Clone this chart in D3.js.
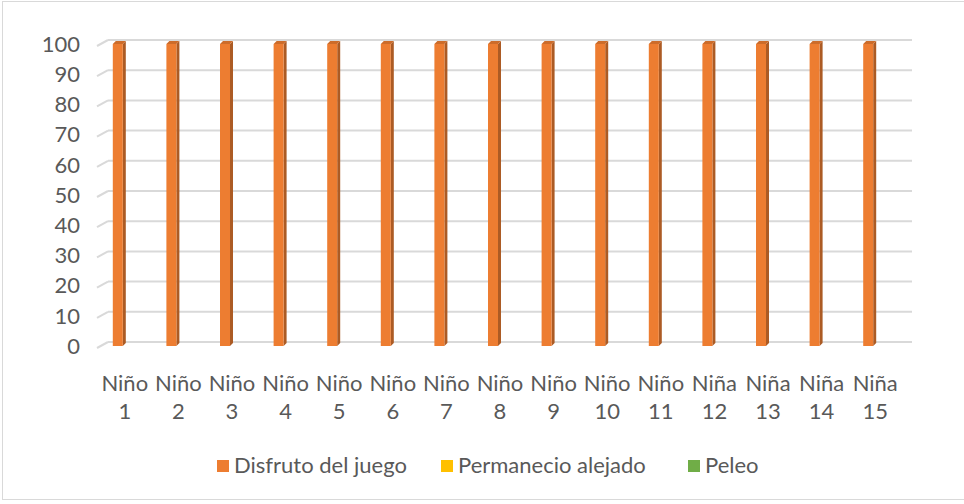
<!DOCTYPE html>
<html><head><meta charset="utf-8">
<script src="https://cdn.jsdelivr.net/npm/d3@7"></script>
<style>body{margin:0;background:#fff}svg{display:block}</style>
</head><body>
<script>
const categories = ["Niño 1","Niño 2","Niño 3","Niño 4","Niño 5","Niño 6","Niño 7","Niño 8","Niño 9","Niño 10","Niño 11","Niña 12","Niña 13","Niña 14","Niña 15"];
const disfruto = [100,100,100,100,100,100,100,100,100,100,100,100,100,100,100];
const alejado  = [0,0,0,0,0,0,0,0,0,0,0,0,0,0,0];
const peleo    = [0,0,0,0,0,0,0,0,0,0,0,0,0,0,0];
const seriesNames = ["Disfruto del juego","Permanecio alejado","Peleo"];
const seriesColors = ["#ED7D31","#FFC000","#70AD47"];
const yTicks = [0,10,20,30,40,50,60,70,80,90,100];

const W = 964, H = 504;
const svg = d3.select("body").append("svg").attr("width", W).attr("height", H);
const font = "Lato, 'Open Sans', sans-serif";
const fs = 22;
const textColor = "#595959";

svg.append("rect").attr("x",2.5).attr("y",1.5).attr("width",1000).attr("height",498)
  .attr("fill","#fff").attr("stroke","#D9D9D9");

const y = d3.scaleLinear().domain([0,100]).range([346,44]);
const x = d3.scaleBand().domain(categories).range([91,895]).paddingInner(0).paddingOuter(0);
const dx = 11, dy = 5; // 3D depth offset

// gridlines (back wall + left side wall)
const grid = svg.append("g");
yTicks.forEach(t => {
  const yy = y(t) - dy + 1;
  grid.append("line").attr("x1",97+dx).attr("x2",912).attr("y1",yy).attr("y2",yy)
    .attr("stroke","#D9D9D9").attr("stroke-width",2);
  grid.append("line").attr("x1",97).attr("y1",yy+dy+1).attr("x2",97+dx).attr("y2",yy)
    .attr("stroke","#D9D9D9").attr("stroke-width",2);
});

// y axis labels
svg.append("g").selectAll("text").data(yTicks).join("text")
  .attr("x",80).attr("y",d=>y(d)).attr("dy","0.35em").attr("text-anchor","end")
  .attr("font-family",font).attr("font-size",fs).attr("fill",textColor).text(d=>d);

// bars (3D-ish)
const bw = 10, sw = 3, th = 3;
const bars = svg.append("g");
const allSeries = [disfruto, alejado, peleo];
allSeries.forEach((vals, si) => {
  const col = d3.color(seriesColors[si]);
  vals.forEach((v, i) => {
    if (v <= 0) return;
    const cx = x(categories[i]) + x.bandwidth()/2;
    const x0 = cx - bw/2;
    const yt = y(v), yb = y(0);
    const g = bars.append("g");
    g.append("path").attr("d", `M${x0+bw},${yt} L${x0+bw+sw},${yt-th} L${x0+bw+sw},${yb-th} L${x0+bw},${yb} Z`)
      .attr("fill", col.darker(0.9));
    g.append("path").attr("d", `M${x0},${yt} L${x0+sw},${yt-th} L${x0+bw+sw},${yt-th} L${x0+bw},${yt} Z`)
      .attr("fill", col.darker(0.4));
    g.append("rect").attr("x",x0).attr("y",yt).attr("width",bw).attr("height",yb-yt)
      .attr("fill", col);
  });
});

// category labels
const cl = svg.append("g");
categories.forEach(c => {
  const cx = x(c) + x.bandwidth()/2 + 7;
  const parts = c.split(" ");
  const t = cl.append("text").attr("text-anchor","middle").attr("font-family",font)
    .attr("font-size",fs).attr("fill",textColor);
  t.append("tspan").attr("x",cx).attr("y",391).text(parts[0]);
  t.append("tspan").attr("x",cx).attr("y",419).text(parts[1]);
});

// legend
const legX = [217, 441, 688];
const lg = svg.append("g");
seriesNames.forEach((n, i) => {
  lg.append("rect").attr("x",legX[i]).attr("y",460).attr("width",12).attr("height",12)
    .attr("fill",seriesColors[i]);
  lg.append("text").attr("x",legX[i]+17).attr("y",473).attr("font-family",font)
    .attr("font-size",fs).attr("fill",textColor).text(n);
});
</script>
</body></html>
